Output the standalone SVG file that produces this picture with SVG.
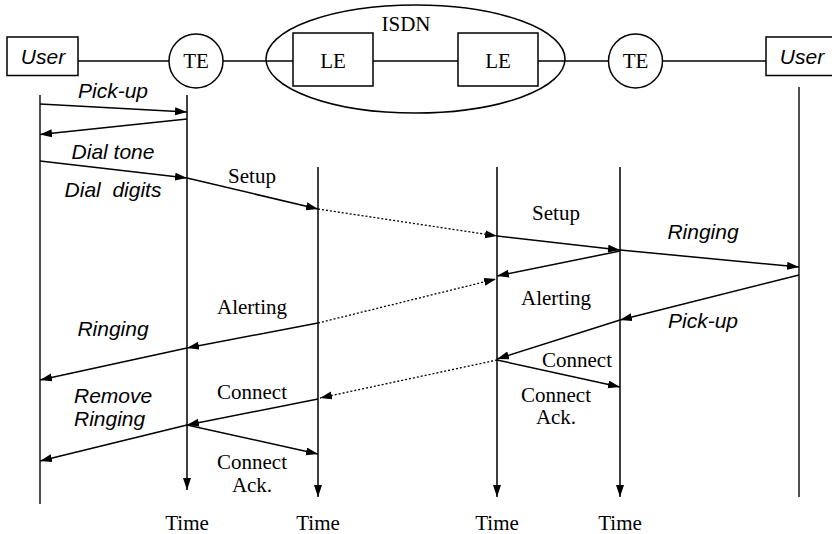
<svg xmlns="http://www.w3.org/2000/svg" width="832" height="534" viewBox="0 0 832 534">
<style>
.ln{stroke:#000;stroke-width:1.5;fill:none}
.life{stroke:#222;stroke-width:1.6;fill:none}
.msg{stroke:#000;stroke-width:1.5;fill:none;marker-end:url(#ah)}
.dot{stroke:#000;stroke-width:1.3;fill:none;stroke-dasharray:2,2;marker-end:url(#ah)}
.box{fill:#fff;stroke:#000;stroke-width:1.5}
.sf{font-family:"Liberation Serif","Times New Roman",serif;font-size:21px;fill:#000;text-anchor:middle}
.it{font-family:"Liberation Sans",Arial,sans-serif;font-size:21px;font-style:italic;fill:#000;text-anchor:middle;white-space:pre}
</style>
<defs>
<marker id="ah" markerUnits="userSpaceOnUse" markerWidth="13" markerHeight="9" refX="12" refY="4" orient="auto">
<path d="M0,0 L12,4 L0,8 z" fill="#000"/>
</marker>
</defs>
<rect width="832" height="534" fill="#fff"/>
<g id="links">
<line class="ln" x1="78" y1="61" x2="169" y2="61"/>
<line class="ln" x1="223" y1="61" x2="293" y2="61"/>
<line class="ln" x1="373" y1="61" x2="458" y2="61"/>
<line class="ln" x1="538" y1="61" x2="609" y2="61"/>
<line class="ln" x1="662" y1="61" x2="766" y2="61"/>
</g>
<g id="isdn">
<ellipse cx="415.5" cy="59" rx="149.5" ry="54" fill="none" stroke="#000" stroke-width="1.5"/>
<text class="sf" x="406" y="31">ISDN</text>
</g>
<g id="user-left">
<rect class="box" x="7" y="37" width="71" height="38.5"/>
<text class="it" x="43" y="64">User</text>
</g>
<g id="te-left">
<circle class="box" cx="196" cy="61" r="27"/>
<text class="sf" x="196" y="68">TE</text>
</g>
<g id="le-left">
<rect class="box" x="293" y="33" width="80" height="53"/>
<text class="sf" x="333" y="68">LE</text>
</g>
<g id="le-right">
<rect class="box" x="458" y="33" width="80" height="53"/>
<text class="sf" x="498" y="68">LE</text>
</g>
<g id="te-right">
<circle class="box" cx="635.5" cy="61" r="27"/>
<text class="sf" x="635.5" y="68">TE</text>
</g>
<g id="user-right">
<rect class="box" x="766" y="37" width="70" height="38.5"/>
<text class="it" x="802" y="64">User</text>
</g>
<g id="lifelines">
<line class="life" x1="40" y1="95" x2="40" y2="504"/>
<line class="msg" x1="187" y1="95" x2="187" y2="490"/>
<line class="msg" x1="318" y1="167" x2="318" y2="497"/>
<line class="msg" x1="497" y1="167" x2="497" y2="497"/>
<line class="msg" x1="620" y1="167" x2="620" y2="497"/>
<line class="life" x1="799" y1="87" x2="799" y2="497"/>
</g>
<g id="connectors">
<line class="msg" x1="40" y1="104" x2="187" y2="112"/>
<line class="msg" x1="187" y1="119" x2="40" y2="134.5"/>
<line class="msg" x1="40" y1="161" x2="187" y2="178"/>
<line class="msg" x1="187" y1="178" x2="318" y2="209"/>
<line class="dot" x1="318" y1="209" x2="497" y2="236"/>
<line class="msg" x1="497" y1="236" x2="620" y2="250"/>
<line class="msg" x1="620" y1="250" x2="799" y2="267"/>
<line class="msg" x1="620" y1="251" x2="497" y2="276"/>
<line class="dot" x1="318" y1="323" x2="496" y2="279"/>
<line class="msg" x1="318" y1="323" x2="187" y2="348"/>
<line class="msg" x1="187" y1="348" x2="40" y2="380"/>
<line class="msg" x1="799" y1="275" x2="620" y2="320"/>
<line class="msg" x1="620" y1="320" x2="497" y2="359"/>
<line class="msg" x1="497" y1="360" x2="620" y2="387"/>
<line class="dot" x1="497" y1="360" x2="320" y2="398"/>
<line class="msg" x1="318" y1="399" x2="187" y2="425"/>
<line class="msg" x1="187" y1="425" x2="40" y2="461"/>
<line class="msg" x1="187" y1="425" x2="318" y2="454"/>
</g>
<g id="labels">
<text class="it" x="113" y="98">Pick-up</text>
<text class="it" x="113" y="159">Dial tone</text>
<text class="it" x="113" y="197">Dial  digits</text>
<text class="sf" x="252" y="183">Setup</text>
<text class="sf" x="556" y="220">Setup</text>
<text class="it" x="703" y="239">Ringing</text>
<text class="sf" x="252" y="314">Alerting</text>
<text class="it" x="113" y="336">Ringing</text>
<text class="sf" x="556" y="305">Alerting</text>
<text class="it" x="703" y="328">Pick-up</text>
<text class="sf" x="577" y="367">Connect</text>
<text class="sf" x="556" y="402">Connect</text>
<text class="sf" x="556" y="424">Ack.</text>
<text class="it" x="74" y="403" style="text-anchor:start">Remove</text>
<text class="it" x="74" y="426" style="text-anchor:start">Ringing</text>
<text class="sf" x="252" y="399">Connect</text>
<text class="sf" x="252" y="469">Connect</text>
<text class="sf" x="252" y="492">Ack.</text>
<text class="sf" x="187" y="530">Time</text>
<text class="sf" x="318" y="530">Time</text>
<text class="sf" x="497" y="530">Time</text>
<text class="sf" x="620" y="530">Time</text>
</g>
</svg>
